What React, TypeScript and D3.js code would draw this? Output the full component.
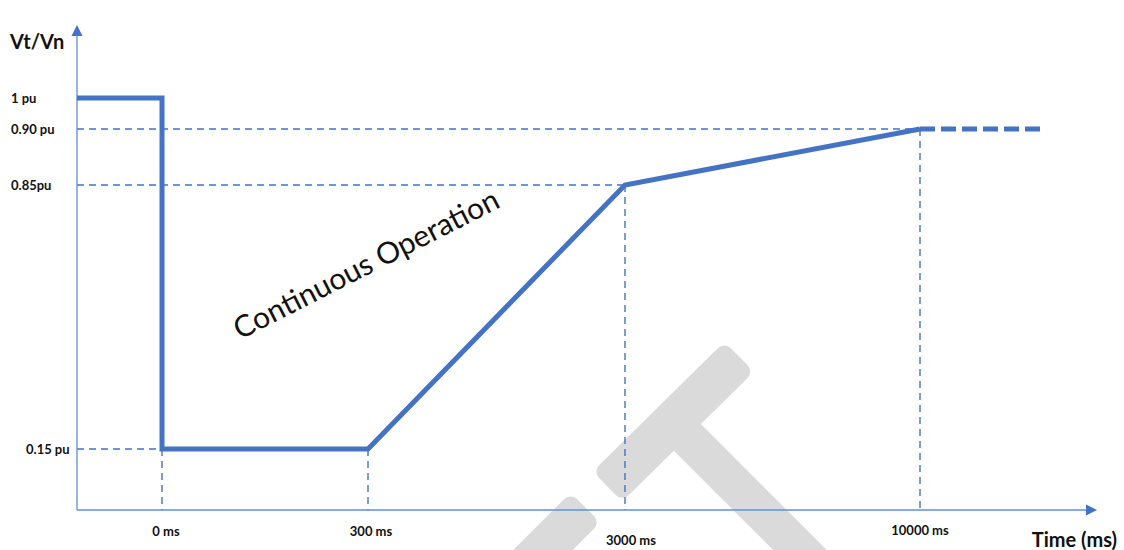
import React from 'react';
import * as d3 from 'd3';

// tick values and labels
const timeTicks = [0, 300, 3000, 10000];
const timeLabels = ['0 ms', '300 ms', '3000 ms', '10000 ms'];
const puTicks = [1, 0.9, 0.85, 0.15];
const puLabels = ['1 pu', '0.90 pu', '0.85pu', '0.15 pu'];

// voltage-time curve (solid) and its continuation (dashed)
const curveTime = [-250, 0, 0, 300, 3000, 10000];
const curvePu = [1, 1, 0.15, 0.15, 0.85, 0.9];
const extTime = [10000, 13000];
const extPu = [0.9, 0.9];

// corner points that get dashed guides to the axes
const guideTime = [0, 300, 3000, 10000];
const guidePu = [0.15, 0.15, 0.85, 0.9];

const W = 1124;
const H = 550;
const BLUE = '#4472c4';
const AXIS = '#5f8fd8';

// the axis is not to scale, so piecewise scales
const x = d3.scaleLinear()
  .domain([-250, 0, 300, 3000, 10000, 14400])
  .range([77, 162, 368, 625, 920, 1097]);
const y = d3.scaleLinear()
  .domain([0, 0.15, 0.85, 0.9, 1, 1.23])
  .range([510, 449, 185, 129, 98, 25]);

const line = d3.line<number>()
  .x((_, i) => x(curveTime[i]))
  .y(d => y(d));
const extLine = d3.line<number>()
  .x((_, i) => x(extTime[i]))
  .y(d => y(d));

const labelFont = 'Lato, "Open Sans", sans-serif';

export default function App() {
  const x0 = x(-250);
  const y0 = y(0);
  const xEnd = x(14400);
  const yTop = y(1.23);

  // small nudges so the labels sit where the reference has them
  const xLabelDx = [4, 3, 6, 0];
  const xLabelY = [536, 536, 545, 535];
  const yLabelX = [11, 11, 11, 26];

  return (
    <svg
      width={W}
      height={H}
      style={{ position: 'absolute', left: 0, top: 0, background: '#fff' }}
    >
      {/* watermark */}
      <g fill="#dadada">
        <rect x={-92} y={-21} width={185} height={42} rx={9}
          transform="translate(673,422) rotate(-44.6)" />
        <rect x={-135} y={-19} width={270} height={38} rx={9}
          transform="translate(767,517) rotate(45)" />
        <rect x={-70} y={-21} width={140} height={42} rx={9}
          transform="translate(536,557) rotate(135)" />
      </g>

      {/* dashed guides */}
      <g stroke={BLUE} strokeWidth={1.4} strokeDasharray="7,5" fill="none">
        {[0, 2, 3].map(i => (
          <line key={'h' + i} x1={x0} x2={x(guideTime[i])}
            y1={y(guidePu[i])} y2={y(guidePu[i])} />
        ))}
        {guideTime.map((t, i) => (
          <line key={'v' + i} x1={x(t)} x2={x(t)} y1={y(guidePu[i])} y2={y0} />
        ))}
      </g>

      {/* axes */}
      <g stroke={AXIS} strokeWidth={1.3}>
        <line x1={x0} x2={x0} y1={y0} y2={yTop + 8} />
        <line x1={x0} x2={xEnd - 10} y1={y0} y2={y0} />
      </g>
      <g fill={BLUE}>
        <path d={`M${x0},${yTop} L${x0 - 5.5},${yTop + 11} L${x0 + 5.5},${yTop + 11} Z`} />
        <path d={`M${xEnd},${y0} L${xEnd - 11},${y0 - 5.5} L${xEnd - 11},${y0 + 5.5} Z`} />
      </g>

      {/* curve */}
      <path d={line(curvePu) ?? ''} fill="none" stroke={BLUE} strokeWidth={5}
        strokeLinejoin="miter" />
      <path d={extLine(extPu) ?? ''} fill="none" stroke={BLUE} strokeWidth={5}
        strokeDasharray="15,6" />

      {/* tick labels */}
      <g fontFamily={labelFont} fontWeight="bold" fontSize={13} fill="#111">
        {puTicks.map((v, i) => (
          <text key={puLabels[i]} x={yLabelX[i]} y={y(v)} dy="0.35em">{puLabels[i]}</text>
        ))}
        {timeTicks.map((t, i) => (
          <text key={timeLabels[i]} x={x(t) + xLabelDx[i]} y={xLabelY[i]}
            textAnchor="middle">{timeLabels[i]}</text>
        ))}
      </g>

      {/* axis titles */}
      <g fontFamily={labelFont} fontWeight="bold" fontSize={20} fill="#111">
        <text x={10} y={49}>Vt/Vn</text>
        <text x={1117} y={547} textAnchor="end">Time (ms)</text>
      </g>

      <text x={366} y={264} textAnchor="middle" dy="0.35em"
        transform="rotate(-27,366,264)"
        fontFamily={labelFont} fontSize={30} fill="#111">
        Continuous Operation
      </text>
    </svg>
  );
}
